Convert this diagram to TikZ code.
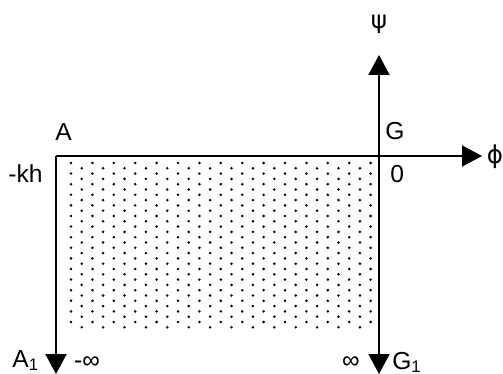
\documentclass[tikz,border=0pt]{standalone}
\usepackage{fontspec}
\setmainfont{Liberation Sans}
\newfontfamily\greekfont{DejaVu Sans}
\usetikzlibrary{arrows.meta}
\newcommand{\sub}[1]{\raisebox{-0.25ex}{\fontsize{9.5}{10}\selectfont #1}}
\begin{document}
\begin{tikzpicture}[x=0.02cm, y=-0.02cm, >={Triangle[length=0.40cm, width=0.42cm]},
    lbl/.style={font=\fontsize{14}{16}\selectfont, inner sep=0pt},
    axis/.style={line width=1.15pt}]
    \useasboundingbox (0,0) rectangle (503,374);
    % dotted region
    \foreach \i in {0,...,28}
        \foreach \j in {0,...,15}
            \fill ({71+10.7*\i}, {163+10.6*\j+mod(\i,2)*5.3}) circle (0.028cm);
    \coordinate (A) at (56,156);
    \coordinate (G) at (379,156);
    \coordinate (A1) at (56,374);
    \coordinate (G1) at (379,374);
    \coordinate (psi) at (379,55);
    \coordinate (phi) at (482,156);
    \draw[->, axis] (A) -- (phi);
    \draw[->, axis] (A) -- (A1);
    \draw[->, axis] (G) -- (psi);
    \draw[->, axis] (G) -- (G1);
    \node[lbl, anchor=base west] (Alab) at (55,141) {A};
    \node[lbl, anchor=base west] (Glab) at (385,140) {G};
    \node[lbl, anchor=base west] (kh) at (8,183) {-kh};
    \node[lbl, anchor=base west] (zero) at (390,183) {0};
    \node[lbl] (psilab) at (379,24) {\greekfont ψ};
    \node[lbl] (philab) at (495,157) {\greekfont ϕ};
    \node[lbl, anchor=base west] (A1lab) at (12,367) {A\sub{1}};
    \node[lbl] (minf) at (87,363) {-∞};
    \node[lbl] (inf) at (351,363) {∞};
    \node[lbl, anchor=base west] (G1lab) at (392,369) {G\sub{1}};
\end{tikzpicture}
\end{document}
